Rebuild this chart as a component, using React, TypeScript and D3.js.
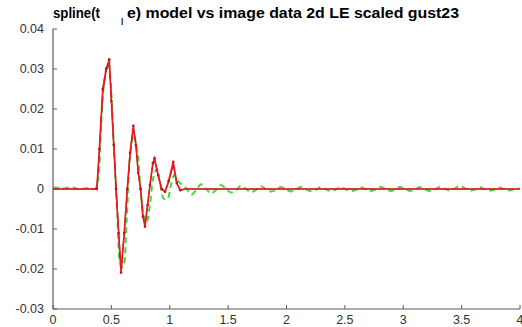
import React from "react";
import * as d3 from "d3";

const W = 522;
const H = 327;

const titleParts = ["spline(t", "|", "e) model vs image data 2d LE scaled gust23"];
const xTicks = [0, 0.5, 1, 1.5, 2, 2.5, 3, 3.5, 4];
const xTickLabels = ["0", "0.5", "1", "1.5", "2", "2.5", "3", "3.5", "4"];
const yTicks = [-0.03, -0.02, -0.01, 0, 0.01, 0.02, 0.03, 0.04];
const yTickLabels = ["-0.03", "-0.02", "-0.01", "0", "0.01", "0.02", "0.03", "0.04"];

// image data (red with markers)
const redT = [0, 0.35, 0.375, 0.397, 0.426, 0.455, 0.482, 0.5, 0.52, 0.54, 0.562, 0.583, 0.61, 0.636, 0.66, 0.688, 0.71, 0.73, 0.75, 0.77, 0.788, 0.81, 0.83, 0.855, 0.87, 0.9, 0.93, 0.96, 0.99, 1.03, 1.06, 1.09, 1.13, 1.2, 4.0];
const redV = [0, 0, 0, 0.010, 0.025, 0.030, 0.0324, 0.022, 0.011, 0, -0.011, -0.0209, -0.011, 0, 0.009, 0.0158, 0.011, 0.004, 0.0, -0.0069, -0.0094, -0.004, 0.001, 0.0065, 0.0077, 0.0035, 0.0, -0.0007, 0.002, 0.0068, 0.0015, -0.0003, 0, 0, 0];
// spline model (dark red)
const modelV = [0, 0, 0, 0.009, 0.024, 0.0295, 0.0318, 0.0225, 0.0115, 0.0005, -0.0105, -0.0203, -0.0112, -0.0004, 0.0088, 0.0152, 0.0112, 0.0042, 0.0002, -0.0066, -0.0089, -0.0042, 0.0008, 0.006, 0.0072, 0.0034, 0.0002, -0.0006, 0.0016, 0.006, 0.0014, -0.0002, 0, 0, 0];

// green dashed
const greenT = [0, 0.04, 0.08, 0.12, 0.16, 0.2, 0.24, 0.28, 0.32, 0.36,
  0.385, 0.41, 0.44, 0.47, 0.49, 0.52, 0.55, 0.58, 0.6, 0.63, 0.66, 0.69, 0.72, 0.75, 0.78, 0.8, 0.83, 0.86, 0.89, 0.92, 0.95, 0.98, 1.01, 1.04, 1.07,
  1.1, 1.1425, 1.185, 1.2275, 1.27, 1.3125, 1.355, 1.3975, 1.44, 1.4825, 1.525, 1.5675, 1.61, 1.6525, 1.695, 1.7375, 1.78, 1.8225, 1.865, 1.9075,
  1.95, 1.9925, 2.035, 2.0775, 2.12, 2.1625, 2.205, 2.2475, 2.29, 2.3325, 2.375, 2.4175, 2.46, 2.5025, 2.545, 2.5875, 2.63, 2.6725, 2.715, 2.7575,
  2.8, 2.8425, 2.885, 2.9275, 2.97, 3.0125, 3.055, 3.0975, 3.14, 3.1825, 3.225, 3.2675, 3.31, 3.3525, 3.395, 3.4375, 3.48, 3.5225, 3.565, 3.6075,
  3.65, 3.6925, 3.735, 3.7775, 3.82, 3.8625, 3.905, 3.9475, 3.99];
const greenV = [0.0004, 0.0003, 0.0001, 0.0003, 0.0004, 0.0001, -0.0001, 0.0002, 0.0001, 0,
  0.002, 0.015, 0.027, 0.0315, 0.028, 0.012, -0.006, -0.019, -0.0195, -0.008, 0.008, 0.0135, 0.010, 0.0, -0.007, -0.0085, -0.004, 0.003, 0.005, 0.001, -0.0025, -0.0025, 0.001, 0.0035, 0.002,
  0.0012, 0.0001, -0.0014, -0.0002, 0.0012, 0.0, -0.0011, -0.0002, 0.0010, 0.0, -0.0009, -0.0003, 0.0008, 0.0, -0.0008, -0.0002, 0.0007, 0.0, -0.0006, -0.0003,
  0.0005, 0.0, -0.0006, -0.0002, 0.0005, 0.0, -0.0005, -0.0003, 0.0005, 0.0, -0.0005, -0.0002, 0.0005, 0.0, -0.0005, -0.0003, 0.0005, 0.0, -0.0005, -0.0002,
  0.0005, 0.0001, -0.0005, -0.0002, 0.0005, 0.0, -0.0005, -0.0002, 0.0005, 0.0, -0.0005, -0.0002, 0.0005, 0.0001, -0.0004, 0.0, 0.0008, 0.0003, -0.0004, -0.0002,
  0.0005, 0.0, -0.0004, -0.0002, 0.0004, 0.0, -0.0004, -0.0001, 0.0003];

export default function App() {
  const x = d3.scaleLinear().domain([0, 4]).range([53, 520]);
  const y = d3.scaleLinear().domain([-0.03, 0.04]).range([309, 29]);

  const redPts: [number, number][] = redT.map((t, i) => [t, redV[i]]);
  const modelPts: [number, number][] = redT.map((t, i) => [t, modelV[i]]);
  const greenPts: [number, number][] = greenT.map((t, i) => [t, greenV[i]]);

  const lin = d3.line<[number, number]>().x(d => x(d[0])).y(d => y(d[1]));
  const smooth = d3.line<[number, number]>().x(d => x(d[0])).y(d => y(d[1])).curve(d3.curveCatmullRom);

  const font = "'Liberation Sans', Arial, sans-serif";
  const axisColor = "#5a5a5a";
  const labelColor = "#333";

  return (
    <svg width={W} height={H} style={{ position: "absolute", left: 0, top: 0, background: "#fff" }} fontFamily={font}>
      <rect x={0} y={0} width={W} height={H} fill="#fff" />
      {/* title */}
      <text x={53} y={18} fontSize={14} fontWeight="bold" fill="#000" textLength={47} lengthAdjust="spacingAndGlyphs">{titleParts[0]}</text>
      <text x={121} y={23} fontSize={8} fontWeight="bold" fill="#000">{titleParts[1]}</text>
      <text x={127} y={18} fontSize={14} fontWeight="bold" fill="#000" textLength={332} lengthAdjust="spacingAndGlyphs">{titleParts[2]}</text>

      {/* data lines */}
      <path d={smooth(greenPts) || ""} fill="none" stroke="#3ddc3d" strokeWidth={2} strokeDasharray="6,4" />
      <path d={lin(modelPts) || ""} fill="none" stroke="#9a2020" strokeWidth={1.2} />
      <path d={lin(redPts) || ""} fill="none" stroke="#ee1822" strokeWidth={1.6} />
      {redPts.slice(2, 32).map((d, i) => (
        <circle key={i} cx={x(d[0])} cy={y(d[1])} r={1.3} fill="#c0101a" />
      ))}

      {/* axes */}
      <line x1={53} x2={53} y1={29} y2={309} stroke={axisColor} strokeWidth={1.2} />
      <line x1={53} x2={520} y1={309} y2={309} stroke={axisColor} strokeWidth={1.2} />
      {yTicks.map((v, i) => (
        <g key={"y" + i}>
          <line x1={53} x2={57} y1={y(v)} y2={y(v)} stroke={axisColor} strokeWidth={1} />
          <text x={44} y={y(v) + 4} fontSize={12.5} textAnchor="end" fill={labelColor}>{yTickLabels[i]}</text>
        </g>
      ))}
      {xTicks.map((v, i) => (
        <g key={"x" + i}>
          <line x1={x(v)} x2={x(v)} y1={309} y2={305} stroke={axisColor} strokeWidth={1} />
          <text x={x(v)} y={324} fontSize={12.5} textAnchor="middle" fill={labelColor}>{xTickLabels[i]}</text>
        </g>
      ))}
    </svg>
  );
}
